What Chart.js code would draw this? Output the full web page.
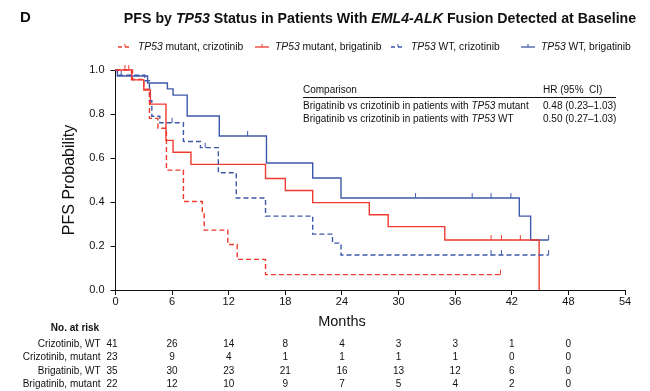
<!DOCTYPE html>
<html>
<head>
<meta charset="utf-8">
<script src="https://cdn.jsdelivr.net/npm/chart.js@4.4.0/dist/chart.umd.min.js"></script>
<style>
  html, body { margin: 0; padding: 0; background: #fff; }
  #wrap { width: 650px; height: 391px; position: relative; }
</style>
</head>
<body>
<div id="wrap"><canvas id="pfsChart"></canvas></div>
<script>
// Kaplan-Meier steps: time (months) and survival from that time on
const crizMutTimes = [0, 1.8, 3.0, 3.6, 4.5, 5.4, 7.2, 9.2, 9.4, 11.9, 12.9, 15.9, 40.8];
const crizMutSurv = [1.0, 0.957, 0.913, 0.78, 0.735, 0.545, 0.402, 0.35, 0.272, 0.207, 0.139, 0.07, 0.07];
const crizMutCens = [1.4, 40.8];

const brigMutTimes = [0, 1.7, 3.0, 3.7, 5.35, 6.1, 8.0, 15.9, 18.0, 20.9, 26.9, 28.9, 34.9, 44.9];
const brigMutSurv = [1.0, 0.955, 0.909, 0.845, 0.68, 0.626, 0.571, 0.507, 0.452, 0.397, 0.342, 0.288, 0.227, 0.0];
const brigMutCens = [1.0, 39.8, 40.9, 42.9];

const crizWtTimes = [0, 0.2, 3.1, 3.6, 3.85, 4.7, 7.2, 9.0, 10.9, 12.8, 15.9, 20.9, 23.0, 23.9, 45.9];
const crizWtSurv = [1.0, 0.976, 0.951, 0.86, 0.79, 0.76, 0.675, 0.647, 0.533, 0.418, 0.336, 0.254, 0.213, 0.159, 0.159];
const crizWtCens = [6.0, 9.5, 39.8, 40.9, 45.9];

const brigWtTimes = [0, 0.2, 3.4, 5.5, 6.1, 7.6, 11.0, 16.0, 20.9, 23.9, 42.8, 44.0, 45.9];
const brigWtSurv = [1.0, 0.973, 0.941, 0.914, 0.886, 0.791, 0.70, 0.577, 0.509, 0.418, 0.336, 0.227, 0.227];
const brigWtCens = [0.6, 14.0, 31.8, 37.8, 39.8, 41.9, 45.9];

// number at risk table
const riskTimes = [0, 6, 12, 18, 24, 30, 36, 42, 48];
const riskLabels = ["Crizotinib, WT", "Crizotinib, mutant", "Brigatinib, WT", "Brigatinib, mutant"];
const riskCrizWt = [41, 26, 14, 8, 4, 3, 3, 1, 0];
const riskCrizMut = [23, 9, 4, 1, 1, 1, 1, 0, 0];
const riskBrigWt = [35, 30, 23, 21, 16, 13, 12, 6, 0];
const riskBrigMut = [22, 12, 10, 9, 7, 5, 4, 2, 0];

const hrRows = ["0.48 (0.23\u20131.03)", "0.50 (0.27\u20131.03)"];

const RED = "#ef3a2f";
const BLUE = "#3d58a8";
const FONT = "'Liberation Sans', Arial, sans-serif";

function stepPoints(times, surv) {
  return times.map((t, i) => ({ x: t, y: surv[i] }));
}

function survAt(times, surv, t) {
  let s = surv[0];
  for (let i = 0; i < times.length; i++) {
    if (times[i] <= t) s = surv[i];
  }
  return s;
}

function censorPoints(cens, times, surv) {
  return cens.map(t => ({ x: t, y: survAt(times, surv, t) }));
}

// small upward tick used as censor mark
function tickImage(color) {
  let c = document.createElement("canvas");
  c.width = 3;
  c.height = 12;
  let g = c.getContext("2d");
  g.strokeStyle = color;
  g.lineWidth = 1;
  g.beginPath();
  g.moveTo(1.5, 1);
  g.lineTo(1.5, 6);
  g.stroke();
  return c;
}

function fontFor(seg, size) {
  return (seg.i ? "italic " : "") + (seg.b ? "bold " : "") + size + "px " + FONT;
}

function drawRich(ctx, segs, x, y, size, align) {
  let widths = segs.map(seg => {
    ctx.font = fontFor(seg, size);
    return ctx.measureText(seg.t).width;
  });
  let total = widths.reduce((a, b) => a + b, 0);
  let cx = x;
  if (align === "center") cx = x - total / 2;
  if (align === "right") cx = x - total;
  ctx.textAlign = "left";
  ctx.textBaseline = "middle";
  segs.forEach((seg, i) => {
    ctx.font = fontFor(seg, size);
    ctx.fillText(seg.t, cx, y);
    cx += widths[i];
  });
}

const legendItems = [
  { segs: [{ t: "TP53", i: true }, { t: " mutant, crizotinib" }], color: RED, dash: [4, 3], x: 118 },
  { segs: [{ t: "TP53", i: true }, { t: " mutant, brigatinib" }], color: RED, dash: [], x: 255 },
  { segs: [{ t: "TP53", i: true }, { t: " WT, crizotinib" }], color: BLUE, dash: [4, 3], x: 391 },
  { segs: [{ t: "TP53", i: true }, { t: " WT, brigatinib" }], color: BLUE, dash: [], x: 521 }
];

const annotations = {
  id: "annotations",
  afterDraw(chart) {
    const ctx = chart.ctx;
    const xs = chart.scales.x;
    ctx.save();
    ctx.fillStyle = "#111";

    // panel letter and title
    drawRich(ctx, [{ t: "D", b: true }], 20, 18, 15, "left");
    drawRich(ctx, [
      { t: "PFS by ", b: true },
      { t: "TP53", b: true, i: true },
      { t: " Status in Patients With ", b: true },
      { t: "EML4-ALK", b: true, i: true },
      { t: " Fusion Detected at Baseline", b: true }
    ], 380, 19, 14.2, "center");

    // legend
    legendItems.forEach(item => {
      ctx.strokeStyle = item.color;
      ctx.lineWidth = 1.3;
      ctx.setLineDash(item.dash);
      ctx.beginPath();
      ctx.moveTo(item.x, 47);
      ctx.lineTo(item.x + 14, 47);
      ctx.stroke();
      ctx.setLineDash([]);
      ctx.lineWidth = 1;
      ctx.beginPath();
      ctx.moveTo(item.x + 7, 44);
      ctx.lineTo(item.x + 7, 47);
      ctx.stroke();
      ctx.fillStyle = "#111";
      drawRich(ctx, item.segs, item.x + 20, 47, 10.3, "left");
    });

    // HR comparison box
    drawRich(ctx, [{ t: "Comparison" }], 303, 90, 10, "left");
    drawRich(ctx, [{ t: "HR (95%  CI)" }], 543, 90, 10, "left");
    ctx.strokeStyle = "#111";
    ctx.lineWidth = 1;
    ctx.beginPath();
    ctx.moveTo(303, 97.5);
    ctx.lineTo(616, 97.5);
    ctx.stroke();
    drawRich(ctx, [{ t: "Brigatinib vs crizotinib in patients with " }, { t: "TP53", i: true }, { t: " mutant" }], 303, 106, 10, "left");
    drawRich(ctx, [{ t: "Brigatinib vs crizotinib in patients with " }, { t: "TP53", i: true }, { t: " WT" }], 303, 119, 10, "left");
    drawRich(ctx, [{ t: hrRows[0] }], 543, 106, 10, "left");
    drawRich(ctx, [{ t: hrRows[1] }], 543, 119, 10, "left");

    // x axis title, set left of the plot centre as in the figure
    drawRich(ctx, [{ t: "Months" }], 342, 322, 14.5, "center");

    // number at risk
    drawRich(ctx, [{ t: "No. at risk", b: true }], 75, 328, 10, "center");
    const rows = [riskCrizWt, riskCrizMut, riskBrigWt, riskBrigMut];
    const rowY = [344, 357.5, 371, 384];
    rows.forEach((row, r) => {
      drawRich(ctx, [{ t: riskLabels[r] }], 100.5, rowY[r], 10, "right");
      row.forEach((n, i) => {
        let px = xs.getPixelForValue(riskTimes[i]);
        if (i === 0) px -= 3.5;
        drawRich(ctx, [{ t: String(n) }], px, rowY[r], 10, "center");
      });
    });
    ctx.restore();
  }
};

function curve(times, surv, color, dash) {
  return {
    type: "line",
    data: stepPoints(times, surv),
    borderColor: color,
    borderWidth: 1.4,
    borderDash: dash,
    stepped: "before",
    pointRadius: 0,
    fill: false,
    clip: 6
  };
}

function censors(cens, times, surv, color) {
  return {
    type: "scatter",
    data: censorPoints(cens, times, surv),
    pointStyle: tickImage(color),
    pointRadius: 5,
    showLine: false,
    clip: 8
  };
}

let ctx = document.getElementById("pfsChart").getContext("2d");
let chart = new Chart(ctx, {
  type: "line",
  data: {
    datasets: [
      curve(crizMutTimes, crizMutSurv, RED, [5, 3]),
      curve(crizWtTimes, crizWtSurv, BLUE, [5, 3]),
      curve(brigMutTimes, brigMutSurv, RED, []),
      curve(brigWtTimes, brigWtSurv, BLUE, []),
      censors(crizMutCens, crizMutTimes, crizMutSurv, RED),
      censors(crizWtCens, crizWtTimes, crizWtSurv, BLUE),
      censors(brigMutCens, brigMutTimes, brigMutSurv, RED),
      censors(brigWtCens, brigWtTimes, brigWtSurv, BLUE)
    ]
  },
  options: {
    responsive: true,
    maintainAspectRatio: false,
    animation: false,
    layout: { padding: { top: 70, right: 25, bottom: 57, left: 58 } },
    plugins: {
      legend: { display: false },
      tooltip: { enabled: false },
      title: { display: false }
    },
    scales: {
      x: {
        type: "linear",
        min: 0,
        max: 54,
        afterFit: scale => { scale.height = 44; },
        ticks: { stepSize: 6, color: "#111", padding: 0, font: { family: FONT, size: 11 } },
        grid: { drawOnChartArea: false, tickLength: 5, color: "#111" },
        border: { color: "#111", width: 1 },
        title: { display: false }
      },
      y: {
        min: 0,
        max: 1,
        afterFit: scale => { scale.width = 57.5; },
        ticks: {
          stepSize: 0.2,
          color: "#111",
          padding: 6,
          font: { family: FONT, size: 11 },
          callback: v => v.toFixed(1)
        },
        grid: { drawOnChartArea: false, tickLength: 5, color: "#111" },
        border: { color: "#111", width: 1 },
        title: { display: true, text: "PFS Probability", color: "#111", font: { family: FONT, size: 16 }, padding: { top: 2, bottom: 4 } }
      }
    }
  },
  plugins: [annotations]
});
</script>
</body>
</html>
